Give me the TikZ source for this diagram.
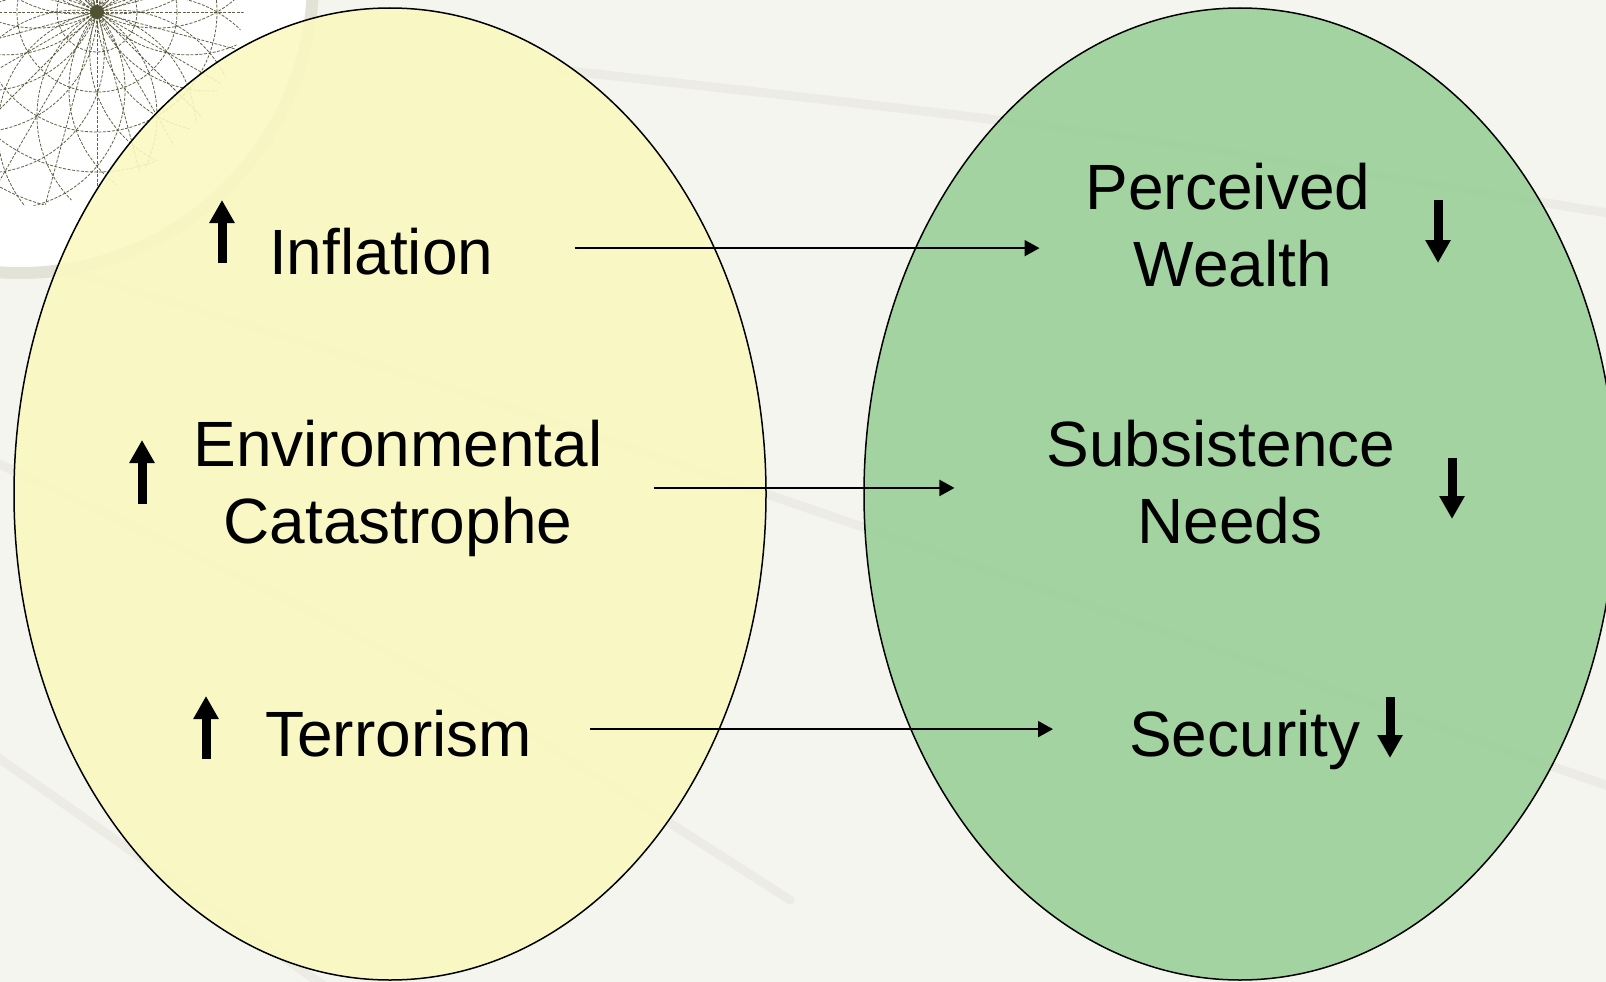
\documentclass[tikz,border=0pt]{standalone}
\usepackage{fontspec}
\setmainfont{Liberation Sans}
\usetikzlibrary{shapes.geometric,arrows.meta,calc}
\definecolor{bgc}{RGB}{245,245,240}
\definecolor{yel}{RGB}{250,249,193}
\definecolor{grn}{RGB}{155,208,153}
\definecolor{wire}{RGB}{80,82,50}
\definecolor{streak}{RGB}{226,226,214}
\begin{document}
\begin{tikzpicture}[x=1pt,y=-1pt,
  causes/.style={ellipse, draw=black, line width=1.5pt, minimum width=752pt, minimum height=972pt, inner sep=0pt, fill opacity=0.9},
  lbl/.style={font=\fontsize{64}{77}\selectfont, inner sep=0pt, align=center},
  conn/.style={line width=2pt, -{Triangle[width=16pt,length=15pt]}},
  trend/.style={line width=9pt, -{Triangle[width=24pt,length=23pt]}},
  streakline/.style={streak, line width=9pt, opacity=0.45, line cap=round},
  wireline/.style={wire, dash pattern=on 3pt off 1.5pt, line width=0.8pt, opacity=0.9},
]
\useasboundingbox (0,0) rectangle (1606,982);
\begin{scope}
\clip (0,0) rectangle (1606,982);
\fill[bgc] (0,0) rectangle (1606,982);
% faint background streaks
\draw[streakline] (-20,245) .. controls (500,400) .. (1620,790);
\draw[streakline] (-20,455) .. controls (400,650) .. (790,900);
\draw[streakline] (560,70) .. controls (1100,130) .. (1620,215);
\draw[streakline] (-20,745) -- (330,990);
% globe decoration
\fill[white] (20,-20) circle (295pt);
\draw[streak, line width=12pt] (20,-20) circle (293pt);
\begin{scope}
\clip (20,-20) circle (226pt);
\foreach \a in {0,15,...,345} \draw[wireline] (97,12) -- ++(\a:300pt);
\foreach \r in {40,80,...,280} \draw[wireline] (97,12) circle (\r pt);
\foreach \a in {0,20,...,340} \draw[wireline] ($(97,12)+(\a:120pt)$) circle (120pt);
\end{scope}
\fill[wire] (97,12) circle (7pt);
% sets
\node[causes, fill=yel] (cause) at (390,494) {};
\node[causes, fill=grn] (effect) at (1240,494) {};
\end{scope}
% labels
\node[lbl, anchor=base west] (infl) at (269,274) {Inflation};
\node[lbl, anchor=base] (pw) at (1228,286) {Perceived\\\hspace*{10pt}Wealth};
\node[lbl, anchor=base] (env) at (398,543) {Environmental\\Catastrophe};
\node[lbl, anchor=base] (sub) at (1221,543) {Subsistence\\\hspace*{18pt}Needs};
\node[lbl, anchor=base west] (terr) at (265,756) {Terrorism};
\node[lbl, anchor=base west] (sec) at (1129,756) {Security};
% trend arrows
\draw[trend] (222,263) -- (222,200);
\draw[trend] (142,504) -- (142,440);
\draw[trend] (206,759) -- (206,696);
\draw[trend] (1438,200) -- (1438,263);
\draw[trend] (1452,458) -- (1452,519);
\draw[trend] (1390,697) -- (1390,758);
% connectors
\draw[conn] ([shift={(81pt,3pt)}]infl.east) -- ([shift={(-46pt,3pt)}]infl.east -| pw.west);
\draw[conn] ([xshift=51pt]env.east) -- ([xshift=-92pt]env.east -| sub.west);
\draw[conn] ([shift={(58pt,4pt)}]terr.east) -- ([shift={(-76pt,4pt)}]terr.east -| sec.west);
\end{tikzpicture}
\end{document}
